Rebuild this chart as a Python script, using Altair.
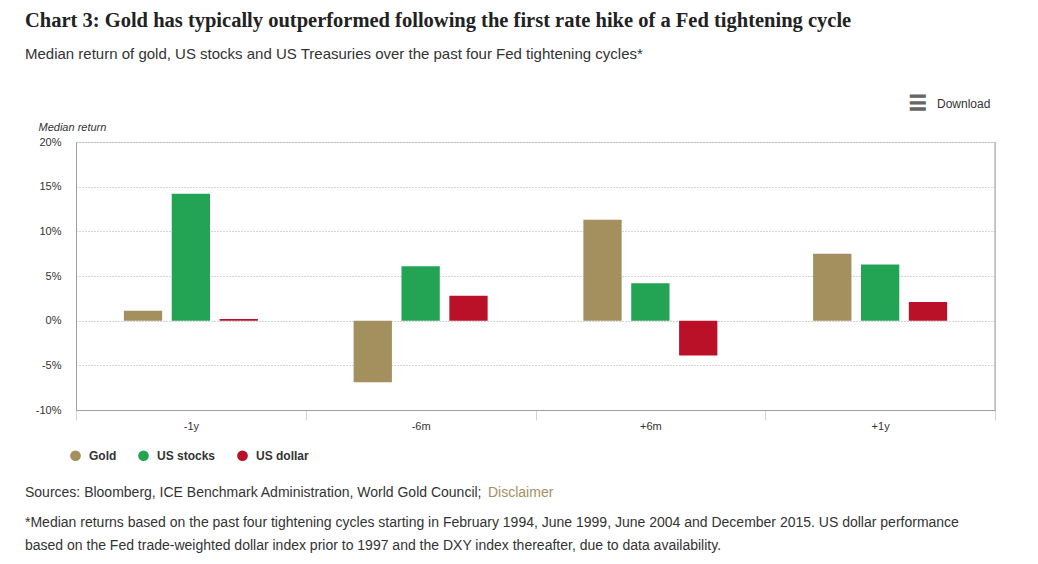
import altair as alt
import pandas as pd

periods = ["-1y", "-6m", "+6m", "+1y"]
series = ["Gold", "US stocks", "US dollar"]
gold = [1.1, -6.9, 11.3, 7.5]
stocks = [14.2, 6.1, 4.2, 6.3]
dollar = [0.2, 2.8, -3.9, 2.1]
colors = ["#a48f5e", "#23a455", "#bb1128"]
y_ticks = [-10, -5, 0, 5, 10, 15, 20]

title_text = "Chart 3: Gold has typically outperformed following the first rate hike of a Fed tightening cycle"
subtitle_text = "Median return of gold, US stocks and US Treasuries over the past four Fed tightening cycles*"
sources_text = "Sources: Bloomberg, ICE Benchmark Administration, World Gold Council;"
disclaimer_text = "Disclaimer"
foot1 = "*Median returns based on the past four tightening cycles starting in February 1994, June 1999, June 2004 and December 2015. US dollar performance"
foot2 = "based on the Fed trade-weighted dollar index prior to 1997 and the DXY index thereafter, due to data availability."

rows = []
for i, p in enumerate(periods):
    for s, vals in zip(series, [gold, stocks, dollar]):
        rows.append({"period": p, "series": s, "value": vals[i]})
df = pd.DataFrame(rows)

W, H = 919, 268
FONT = "Liberation Sans"

bars = alt.Chart(df).mark_bar().encode(
    x=alt.X("period:N", sort=periods,
            scale=alt.Scale(paddingInner=0, paddingOuter=0),
            axis=alt.Axis(title=None, labelAngle=0, labelFontSize=11, labelColor="#333333",
                          labelFont=FONT, domainColor="#a0a0a0", tickColor="#ccd6eb",
                          tickSize=10, tickBand="extent", labelPadding=0, grid=False)),
    xOffset=alt.XOffset("series:N", sort=series,
                        scale=alt.Scale(paddingInner=0.2, paddingOuter=1)),
    y=alt.Y("value:Q",
            scale=alt.Scale(domain=[-10, 20], nice=False),
            axis=alt.Axis(values=y_ticks, labelExpr="datum.value + '%'",
                          title="Median return", titleAngle=0, titleX=-38, titleY=-15,
                          titleAlign="left", titleBaseline="middle", titleFontStyle="italic",
                          titleFontWeight="normal", titleFontSize=11, titleColor="#333333",
                          titleFont=FONT,
                          labelFontSize=11, labelColor="#333333", labelFont=FONT,
                          labelPadding=15, ticks=False, domainColor="#a0a0a0",
                          gridColor="#a8a8a8", gridDash=[1, 2], gridWidth=1)),
    color=alt.Color("series:N", sort=series,
                    scale=alt.Scale(domain=series, range=colors),
                    legend=alt.Legend(orient="none", legendX=-7, legendY=307,
                                      direction="horizontal", title=None,
                                      symbolType="circle", symbolSize=115,
                                      labelFontWeight="bold", labelFontSize=12,
                                      labelColor="#333333", labelFont=FONT,
                                      columnPadding=20, labelOffset=7, padding=0)),
)

one = alt.Data(values=[{}])

border = alt.Chart(one).mark_rule(color="#a0a0a0", strokeWidth=1).encode(
    x=alt.value(W), y=alt.value(0), y2=alt.value(H))


def txt(text, x, y, size, color="#333333", font=FONT, weight="normal", baseline="alphabetic",
        stroke_w=0):
    kw = {}
    if stroke_w:
        kw = {"stroke": color, "strokeWidth": stroke_w}
    return alt.Chart(one).mark_text(
        align="left", baseline=baseline, fontSize=size, color=color,
        font=font, fontWeight=weight, **kw).encode(
        x=alt.value(x), y=alt.value(y), text=alt.value(text))


ox, oy = 76, 142
layers = [
    bars,
    border,
    txt(title_text, 25 - ox, 27 - oy, 20.5, color="#222222", font="Liberation Serif", weight="bold"),
    txt(subtitle_text, 25 - ox, 59 - oy, 15),
    txt("\u2630", 909 - ox, 104 - oy, 20, color="#666666", font="DejaVu Sans", weight="bold",
        baseline="middle", stroke_w=1.4),
    txt("Download", 937 - ox, 104 - oy, 12, baseline="middle"),
    txt(sources_text, 25 - ox, 497 - oy, 14),
    txt(disclaimer_text, 488 - ox, 497 - oy, 14, color="#a58f5e"),
    txt(foot1, 25 - ox, 527 - oy, 14),
    txt(foot2, 25 - ox, 550 - oy, 14),
]

chart = alt.layer(*layers).properties(
    width=W, height=H,
    autosize=alt.AutoSizeParams(type="none"),
    padding={"left": 68, "top": 134, "right": 35, "bottom": 146},
).configure_view(stroke=None).configure(font=FONT)

chart.save("out.html", embed_options={"renderer": "svg", "actions": False})
